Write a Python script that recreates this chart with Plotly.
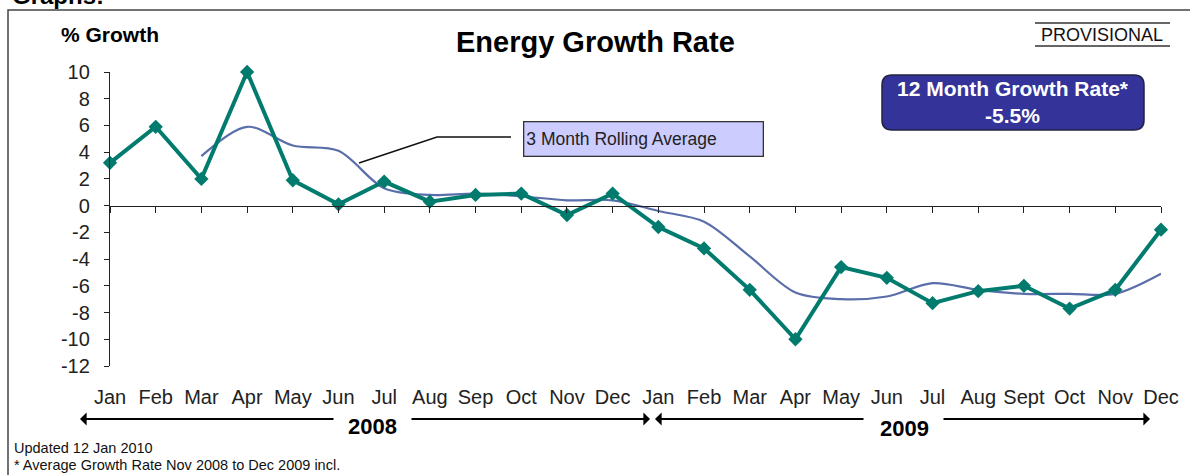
import plotly.graph_objects as go

# ---------------- data ----------------
months = ["Jan", "Feb", "Mar", "Apr", "May", "Jun", "Jul", "Aug", "Sep", "Oct", "Nov", "Dec",
          "Jan", "Feb", "Mar", "Apr", "May", "Jun", "Jul", "Aug", "Sept", "Oct", "Nov", "Dec"]
growth = [3.2, 5.9, 2.0, 10.0, 1.9, 0.1, 1.8, 0.3, 0.8, 0.9, -0.7, 0.9,
          -1.6, -3.2, -6.3, -10.0, -4.6, -5.4, -7.3, -6.4, -6.0, -7.7, -6.3, -1.8]
rolling_avg = [None, None, 3.7, 5.9, 4.5, 4.1, 1.3, 0.8, 0.9, 0.7, 0.4, 0.4,
               -0.4, -1.2, -3.8, -6.5, -7.0, -6.8, -5.8, -6.3, -6.6, -6.6, -6.6, -5.1]
y_ticks = [10, 8, 6, 4, 2, 0, -2, -4, -6, -8, -10, -12]
y_tick_labels = ["10", "8", "6", "4", "2", "0", "-2", "-4", "-6", "-8", "-10", "-12"]
years = ["2008", "2009"]
growth_12m = "-5.5%"

# ---------------- layout helpers (pixel -> paper) ----------------
W, H = 1190, 475
L, R, T, B = 110, 29, 72, 109
PW, PH = W - L - R, H - T - B


def px(x):
    return (x - L) / PW


def py(y):
    return (H - B - y) / PH


FONT = "Liberation Sans, Arial, sans-serif"
x_idx = list(range(len(months)))

fig = go.Figure()

# 3 month rolling average (smooth line)
fig.add_trace(go.Scatter(
    x=x_idx, y=rolling_avg, mode="lines",
    line=dict(color="#5a6eaa", width=2.2, shape="spline", smoothing=0.9),
    hoverinfo="skip", cliponaxis=False, connectgaps=False))

# monthly growth
fig.add_trace(go.Scatter(
    x=x_idx, y=growth, mode="lines+markers",
    line=dict(color="#007b6e", width=4),
    marker=dict(symbol="diamond", size=11, color="#007b6e"),
    cliponaxis=False))

# dummy trace to materialise the labelled bottom axis
fig.add_trace(go.Scatter(x=[0], y=[0], xaxis="x2", mode="markers",
                         marker=dict(opacity=0), hoverinfo="skip"))

shapes = []
annotations = []

# outer frame
shapes.append(dict(type="rect", xref="paper", yref="paper",
                   x0=px(8), x1=px(1200), y0=py(490), y1=py(10),
                   line=dict(color="#444444", width=1.5)))

# leader line to the rolling-average label
shapes.append(dict(type="path", xref="paper", yref="paper",
                   path=f"M {px(359)},{py(163)} L {px(437)},{py(137)} L {px(511)},{py(137)}",
                   line=dict(color="#111111", width=1.5)))

# PROVISIONAL lines
for yy in (23, 46):
    shapes.append(dict(type="line", xref="paper", yref="paper",
                       x0=px(1035), x1=px(1170), y0=py(yy), y1=py(yy),
                       line=dict(color="#333333", width=1.5)))

# rounded box for 12 month growth rate
bx0, bx1, by0, by1 = 882, 1144, 75, 130
r = 10
rx, ry = r / PW, r / PH
X0, X1, Y0, Y1 = px(bx0), px(bx1), py(by1), py(by0)
path = (f"M {X0 + rx},{Y0} L {X1 - rx},{Y0} Q {X1},{Y0} {X1},{Y0 + ry} "
        f"L {X1},{Y1 - ry} Q {X1},{Y1} {X1 - rx},{Y1} "
        f"L {X0 + rx},{Y1} Q {X0},{Y1} {X0},{Y1 - ry} "
        f"L {X0},{Y0 + ry} Q {X0},{Y0} {X0 + rx},{Y0} Z")
shapes.append(dict(type="path", xref="paper", yref="paper", path=path,
                   fillcolor="#333399", line=dict(color="#222244", width=1.5)))

# texts
annotations += [
    dict(text="<b>Graphs:</b>", x=px(10), y=py(-4), xanchor="left", yanchor="middle",
         font=dict(family=FONT, size=24, color="#000")),
    dict(text="<b>% Growth</b>", x=px(110), y=py(35), xanchor="center", yanchor="middle",
         font=dict(family=FONT, size=21, color="#000")),
    dict(text="<b>Energy Growth Rate</b>", x=px(595), y=py(42), xanchor="center", yanchor="middle",
         font=dict(family=FONT, size=29, color="#000")),
    dict(text="PROVISIONAL", x=px(1102), y=py(35), xanchor="center", yanchor="middle",
         font=dict(family=FONT, size=18, color="#111")),
    dict(text=f"<b>12 Month Growth Rate*<br>{growth_12m}</b>", x=px(1013), y=py(102),
         xanchor="center", yanchor="middle",
         font=dict(family=FONT, size=21, color="#ffffff")),
    dict(text="3 Month Rolling Average", x=px(643), y=py(138.5), xanchor="center", yanchor="middle",
         width=234, height=29, align="left", bgcolor="#ccccff", bordercolor="#333333",
         borderwidth=1.3, borderpad=2,
         font=dict(family=FONT, size=17.5, color="#222")),
    dict(text="Updated 12 Jan 2010", x=px(12), y=py(448), xanchor="left", yanchor="middle",
         font=dict(family=FONT, size=14.5, color="#111")),
    dict(text="* Average Growth Rate Nov 2008 to Dec 2009 incl.", x=px(12), y=py(465),
         xanchor="left", yanchor="middle",
         font=dict(family=FONT, size=14.5, color="#111")),
    dict(text=f"<b>{years[0]}</b>", x=px(372), y=py(427), xanchor="center", yanchor="middle",
         font=dict(family=FONT, size=22, color="#000")),
    dict(text=f"<b>{years[1]}</b>", x=px(904), y=py(428), xanchor="center", yanchor="middle",
         font=dict(family=FONT, size=22, color="#000")),
]

# year arrows (head_px, tail_px)
for head, tail in [(80, 335), (650, 410), (655, 865), (1150, 942)]:
    annotations.append(dict(text="", x=px(head), y=py(419), ax=tail - head, ay=0,
                            showarrow=True, arrowhead=1, arrowsize=1.1, arrowwidth=2,
                            arrowcolor="#000"))

for a in annotations:
    a.setdefault("xref", "paper")
    a.setdefault("yref", "paper")
    a.setdefault("showarrow", False)

fig.update_layout(
    width=W, height=H, autosize=False,
    margin=dict(l=L, r=R, t=T, b=B),
    paper_bgcolor="#ffffff", plot_bgcolor="#ffffff",
    showlegend=False,
    font=dict(family=FONT, color="#222"),
    xaxis=dict(range=[0, 23], anchor="free", position=12 / 22,
               tickvals=x_idx, showticklabels=False,
               ticks="outside", ticklen=6, tickwidth=1.3, tickcolor="#222",
               showline=True, linecolor="#222", linewidth=1.3,
               showgrid=False, zeroline=False, fixedrange=True),
    xaxis2=dict(range=[0, 23], overlaying="x", anchor="y", side="bottom",
                tickvals=x_idx, ticktext=months,
                ticks="outside", ticklen=13, tickcolor="rgba(0,0,0,0)",
                tickfont=dict(family=FONT, size=20, color="#222"),
                showline=False, showgrid=False, zeroline=False),
    yaxis=dict(range=[-12, 10], tickvals=y_ticks, ticktext=y_tick_labels,
               ticks="outside", ticklen=5, tickwidth=1.3, tickcolor="#222",
               ticklabelstandoff=10,
               tickfont=dict(family=FONT, size=20, color="#222"),
               showline=True, linecolor="#222", linewidth=1.3,
               showgrid=False, zeroline=False),
    shapes=shapes,
    annotations=annotations,
)

fig.write_html("out.html", config={"displayModeBar": False},
               post_script="document.body.style.margin='0';document.body.style.overflow='hidden';")
